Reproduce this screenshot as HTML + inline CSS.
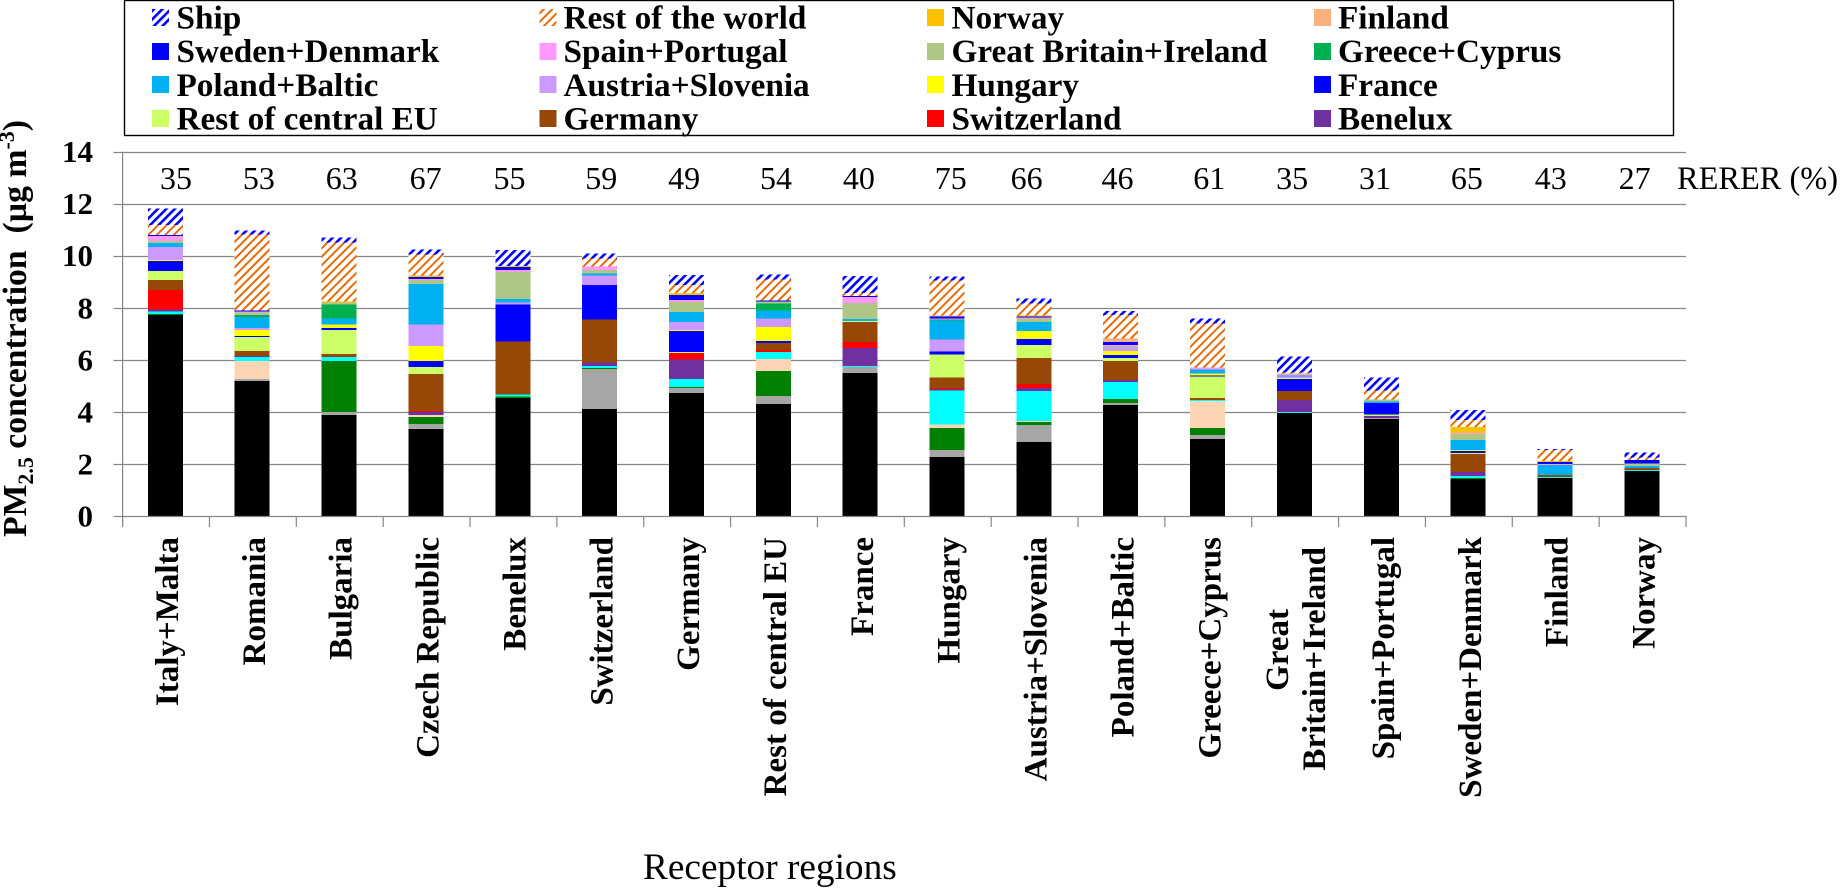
<!DOCTYPE html>
<html lang="en">
<head>
<meta charset="utf-8">
<title>PM2.5 concentration by receptor region</title>
<style>
html,body{margin:0;padding:0;background:#fff;width:1840px;height:889px;overflow:hidden}
svg{display:block}
text{font-family:"Liberation Serif","Times New Roman",serif;fill:#000}
.b{font-weight:bold}
</style>
</head>
<body>
<svg id="chart" xmlns="http://www.w3.org/2000/svg" width="1840" height="889" viewBox="0 0 1840 889">
  <defs>
    <pattern id="hatch-ship" patternUnits="userSpaceOnUse" width="6" height="6" patternTransform="rotate(45)">
      <rect width="6" height="6" fill="#fff"/><rect x="0" y="0" width="2.6" height="6" fill="#0000ff"/>
    </pattern>
    <pattern id="hatch-row" patternUnits="userSpaceOnUse" width="6" height="6" patternTransform="rotate(45)">
      <rect width="6" height="6" fill="#fff"/><rect x="0" y="0" width="2" height="6" fill="#e46c0a"/>
    </pattern>
  </defs>
  <g id="grid"></g>
  <g id="bars"></g>
  <g id="axes"></g>
  <g id="rerer"></g>
  <text x="1677" y="189" font-size="32.4">RERER (%)</text>
  <text class="b" font-size="33.7" transform="translate(26,537) rotate(-90)" xml:space="preserve">PM<tspan font-size="22" dy="7">2.5</tspan><tspan dy="-7"> concentration  (µg m</tspan><tspan font-size="22" dy="-12">-3</tspan><tspan dy="12">)</tspan></text>
  <text x="643" y="879" font-size="37.3">Receptor regions</text>
  <g id="legend">
    <rect x="124.5" y="0.5" width="1549" height="135" fill="#fff" stroke="#000" stroke-width="1.4"/>
  </g>
</svg>
<script>
// Categories and printed values
const categories = ["Italy+Malta","Romania","Bulgaria","Czech Republic","Benelux","Switzerland","Germany","Rest of central EU","France","Hungary","Austria+Slovenia","Poland+Baltic","Greece+Cyprus","Great\nBritain+Ireland","Spain+Portugal","Sweden+Denmark","Finland","Norway"];
const rererValues = [35,53,63,67,55,59,49,54,40,75,66,46,61,35,31,65,43,27];
const yTickLabels = [0,2,4,6,8,10,12,14];

// Series values (µg m-3), bottom of stack to top
const ownRegion   = [7.72,5.19,3.88,3.34,4.53,4.11,4.72,4.30,5.49,2.27,2.84,4.26,2.96,3.96,3.73,1.42,1.46,1.73];
const italyMalta  = [0,.08,.12,.19,0,1.54,.19,.31,.23,.27,.65,.08,.15,0,.04,0,0,0];
const romania     = [.04,0,1.96,.27,.06,.04,.04,.96,0,.85,.12,.15,.27,0,0,.04,0,0];
const bulgaria    = [0,.69,0,.08,0,0,0,.46,0,.12,.04,0,1.04,0,0,0,0,0];
const czech       = [.10,.15,.15,0,.08,.08,.31,.27,.04,1.31,1.15,.65,.04,.04,0,.08,.04,.04];
const benelux     = [.08,.04,0,.12,0,.12,.76,0,.69,.04,.12,.08,0,.46,.08,.15,0,0];
const switzerland = [.74,0,0,.04,0,0,.24,.08,.23,.04,.15,0,0,0,0,0,0,0];
const germany     = [.38,.19,.12,1.42,2.04,1.65,0,.27,.77,.42,1.00,.73,.08,.35,0,.69,.08,.08];
const centralEU   = [.35,.54,.92,.27,0,0,.04,0,.04,.88,.50,.12,.81,0,.04,.04,0,0];
const france      = [.38,.04,.08,.23,1.42,1.34,.81,.08,0,.12,.23,.12,.04,.46,.46,.08,0,0];
const hungary     = [.04,.23,.12,.58,0,0,.04,.54,0,0,.31,.15,.08,.04,0,.04,0,0];
const austria     = [.50,.08,0,.81,.08,.35,.31,.31,0,.46,0,.15,0,.04,0,0,0,0];
const poland      = [.15,.42,.23,1.57,.12,.08,.38,.31,.08,.73,.35,0,.15,.04,.04,.38,.38,.08];
const greece      = [0,.08,.54,0,0,0,0,.27,0,.04,0,0,0,0,0,0,0,0];
const britain     = [.08,.08,.08,.15,1.04,.15,.38,.08,.61,0,.12,.04,0,0,.08,.23,0,.08];
const spain       = [.19,.04,0,.04,.08,.12,.08,0,.23,.04,.04,.04,.08,.04,0,.04,.04,0];
const sweden      = [.04,.04,0,.08,.12,0,.19,.04,.04,.08,.04,.12,0,0,0,0,.08,.15];
const finland     = [0,0,0,0,0,0,0,0,0,.04,0,.12,0,.04,0,0,0,0];
const norway      = [0,0,.04,.04,.04,0,.08,0,0,0,.04,0,0,0,0,.23,.04,0];
const restOfWorld = [.38,2.92,2.27,.81,0,.31,.31,.81,.12,1.34,.46,.92,1.69,.04,.35,.27,.42,.08];
const ship        = [.65,.15,.19,.19,.61,.19,.38,.19,.65,.15,.19,.15,.19,.61,.50,.38,.04,.19];

const stackSeries = [ownRegion,italyMalta,romania,bulgaria,czech,benelux,switzerland,germany,centralEU,france,hungary,austria,poland,greece,britain,spain,sweden,finland,norway,restOfWorld,ship];
const stackSeriesNames = ["own-region","italy-malta","romania","bulgaria","czech-republic","benelux","switzerland","germany","rest-of-central-eu","france","hungary","austria-slovenia","poland-baltic","greece-cyprus","great-britain-ireland","spain-portugal","sweden-denmark","finland","norway","rest-of-the-world","ship"];
const stackFills = ["#000000","#a6a6a6","#008000","#fcd5b5","#00ffff","#7030a0","#ff0000","#974706","#ccff66","#0000ff","#ffff00","#cc99ff","#00b0f0","#00b050","#aec787","#ff99ff","#0000ff","#fab07f","#ffc000","url(#hatch-row)","url(#hatch-ship)"];

// Legend, row by row
const legendLabels = ["Ship","Rest of the world","Norway","Finland","Sweden+Denmark","Spain+Portugal","Great Britain+Ireland","Greece+Cyprus","Poland+Baltic","Austria+Slovenia","Hungary","France","Rest of central EU","Germany","Switzerland","Benelux"];
const legendFills = ["url(#hatch-ship)","url(#hatch-row)","#ffc000","#fab07f","#0000ff","#ff99ff","#aec787","#00b050","#00b0f0","#cc99ff","#ffff00","#0000ff","#ccff66","#974706","#ff0000","#7030a0"];

const NS = "http://www.w3.org/2000/svg";
const plot = {left:122.6, right:1686, zero:516, unit:26.03, barWidth:35};
const step = (plot.right - plot.left) / categories.length;
const xCenter = i => plot.left + step * (i + 0.5);
const yScale = v => plot.zero - v * plot.unit;
// horizontal nudge of each RERER number relative to its bar slot
const rererNudge = [10,6,2,-1,-4,1,-3,2,-2,3,-8,-4,1,-3,-7,-2,-5,-8];

function make(tag, attrs, parent) {
  const el = document.createElementNS(NS, tag);
  for (const k in attrs) el.setAttribute(k, attrs[k]);
  parent.appendChild(el);
  return el;
}
const grid = document.getElementById("grid");
const bars = document.getElementById("bars");
const axes = document.getElementById("axes");
const rerer = document.getElementById("rerer");
const legend = document.getElementById("legend");

// gridlines and y tick labels
yTickLabels.forEach(t => {
  const y = Math.round(yScale(t)) + 0.5;
  const line = make("line", {x1:113.5, x2:plot.right, y1:y, y2:y, stroke:"#868686", "stroke-width":1.2}, t === 0 ? axes : grid);
  
  
  const label = make("text", {x:93, y:yScale(t) + 10.5, "text-anchor":"end", "font-size":31, class:"b"}, axes);
  label.textContent = t;
  
  
});

// y axis line
const yAxis = make("line", {x1:plot.left, x2:plot.left, y1:yScale(14), y2:527, stroke:"#868686", "stroke-width":1.2}, axes);



// x ticks
for (let i = 0; i <= categories.length; i++) {
  const x = plot.left + step * i;
  const tick = make("line", {x1:x, x2:x, y1:plot.zero, y2:527, stroke:"#868686", "stroke-width":1.2}, axes);
  
  
}

// stacked bars
categories.forEach((cat, i) => {
  const slug = cat.replace(/\n/g, " ").toLowerCase().replace(/[^a-z]+/g, "-");
  const group = make("g", {"shape-rendering":"crispEdges"}, bars);
  
  
  let cum = 0;
  stackSeries.forEach((series, s) => {
    const v = series[i];
    if (v <= 0) return;
    const top = yScale(cum + v);
    const seg = make("rect", {x:xCenter(i) - 0.7 - plot.barWidth / 2, y:top, width:plot.barWidth, height:yScale(cum) - top, fill:stackFills[s]}, group);
    
    
    cum += v;
  });

  // RERER value
  const rv = make("text", {x:xCenter(i) + rererNudge[i], y:189, "text-anchor":"middle", "font-size":32}, rerer);
  rv.textContent = rererValues[i];
  
  

  // category label(s), rotated
  const lines = cat.split("\n");
  lines.forEach((line, l) => {
    const multi = lines.length > 1;
    const bx = multi ? xCenter(i) + (l === 0 ? -7 : 30) : xCenter(i) + 12;
    const by = multi ? (l === 0 ? 609 : 547) : 537;
    const t = make("text", {"text-anchor":"end", "font-size":33, class:"b", transform:"translate(" + bx + "," + by + ") rotate(-90)"}, axes);
    t.textContent = line;
    
    
  });
});

// legend
const legendSwatchX = [152, 539.5, 927, 1314];
const legendTextX = [176.5, 563.5, 951.5, 1338];
const legendSwatchY = [9, 43, 76, 110];
const legendTextY = [28.5, 62, 96, 129.5];
legendLabels.forEach((name, n) => {
  const col = n % 4, row = Math.floor(n / 4);
  const slug = name.toLowerCase().replace(/[^a-z]+/g, "-");
  const sw = make("rect", {x:legendSwatchX[col], y:legendSwatchY[row], width:17, height:17, fill:legendFills[n], "shape-rendering":"crispEdges"}, legend);
  
  
  const tx = make("text", {x:legendTextX[col], y:legendTextY[row], "font-size":33.25, class:"b"}, legend);
  tx.textContent = name;
  
  
});
</script>
</body>
</html>
